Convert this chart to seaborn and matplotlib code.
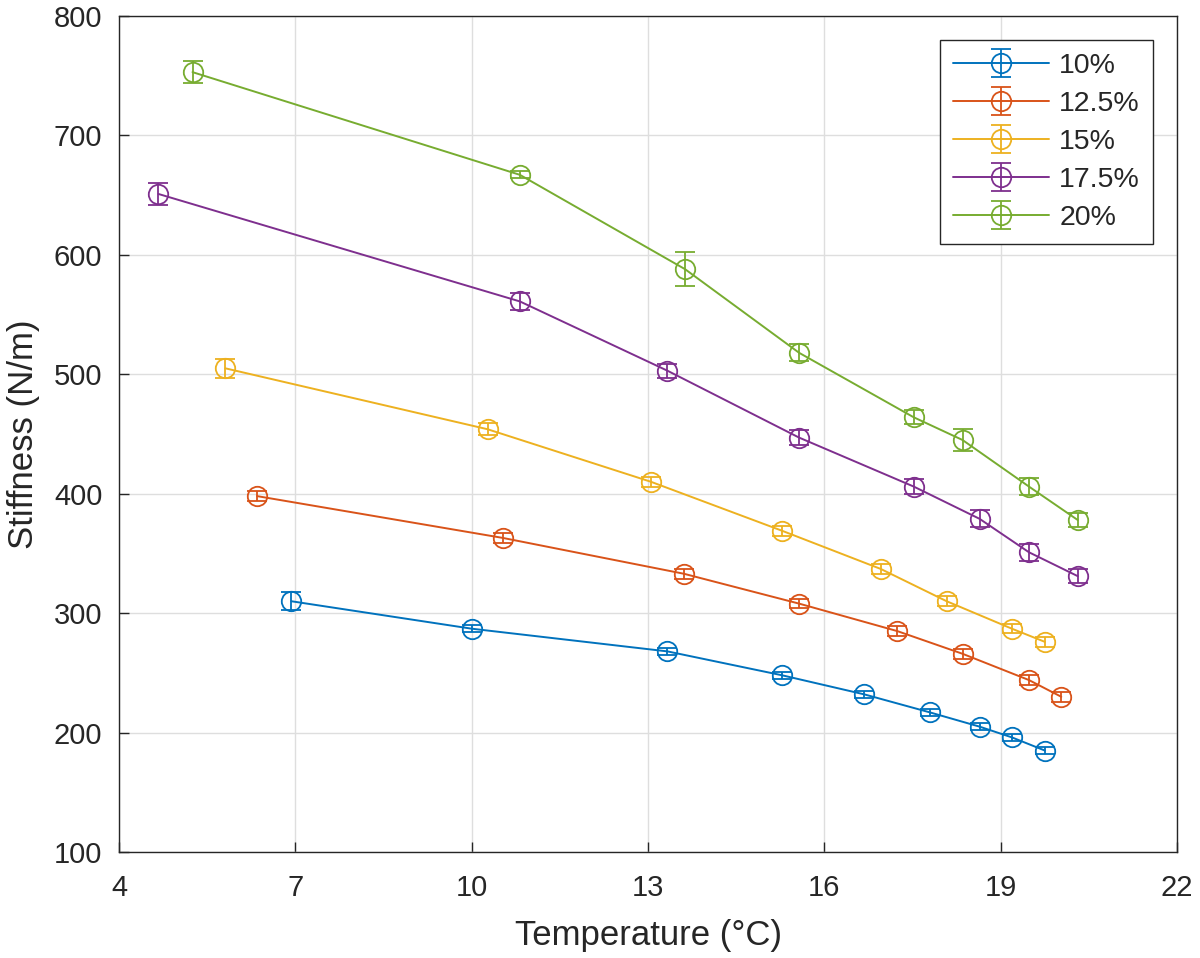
import numpy as np
import pandas as pd
import matplotlib
matplotlib.use("Agg")
import matplotlib.pyplot as plt
import seaborn as sns

labels = ["10%", "12.5%", "15%", "17.5%", "20%"]
colors = ["#0072BD", "#D95319", "#EDB120", "#7E2F8E", "#77AC30"]

temp_10 = [6.93, 10.0, 13.33, 15.28, 16.68, 17.79, 18.64, 19.19, 19.75]
stiff_10 = [310, 287, 268, 248, 232, 217, 205, 196, 185]
err_10 = [7.5, 3, 3, 3, 3, 3, 3, 3, 3]

temp_125 = [6.35, 10.53, 13.61, 15.57, 17.24, 18.35, 19.48, 20.03]
stiff_125 = [398, 363, 333, 308, 285, 266, 244, 230]
err_125 = [4, 4, 4, 4, 4, 4, 4, 4]

temp_15 = [5.81, 10.27, 13.05, 15.28, 16.96, 18.08, 19.19, 19.75]
stiff_15 = [505, 454, 410, 369, 337, 310, 287, 276]
err_15 = [8, 5, 4, 4, 4, 4, 4, 4]

temp_175 = [4.67, 10.82, 13.33, 15.57, 17.52, 18.64, 19.48, 20.31]
stiff_175 = [651, 561, 503, 447, 406, 379, 351, 331]
err_175 = [9.5, 7, 6, 6, 6, 7, 7, 6]

temp_20 = [5.25, 10.82, 13.63, 15.57, 17.52, 18.35, 19.48, 20.31]
stiff_20 = [753, 667, 588, 518, 464, 445, 406, 378]
err_20 = [9.5, 3, 14, 7, 6, 9, 7, 6]

temps = [temp_10, temp_125, temp_15, temp_175, temp_20]
stiffs = [stiff_10, stiff_125, stiff_15, stiff_175, stiff_20]
errs = [err_10, err_125, err_15, err_175, err_20]

xticks = [4, 7, 10, 13, 16, 19, 22]
yticks = [100, 200, 300, 400, 500, 600, 700, 800]

sns.set_theme(style="whitegrid")
plt.rcParams['font.family'] = ['Liberation Sans', 'DejaVu Sans']

fig = plt.figure(figsize=(12, 9.58), dpi=100)
ax = fig.add_axes([0.0992, 0.1106, 0.8817, 0.8727])

handles = []
for lab, c, t, s, e in zip(labels, colors, temps, stiffs, errs):
    df = pd.DataFrame({"Temperature": t, "Stiffness": s})
    sns.lineplot(data=df, x="Temperature", y="Stiffness", color=c, sort=False,
                 marker="o", markersize=14, markerfacecolor="none",
                 markeredgecolor=c, markeredgewidth=1.3, linewidth=1.4,
                 ax=ax, legend=False)
    line = ax.lines[-1]
    eb = ax.errorbar(t, s, yerr=e, fmt="none", ecolor=c, elinewidth=1.3,
                     capsize=7, capthick=1.3)
    handles.append((line, eb))

ax.set_xlim(4, 22)
ax.set_ylim(100, 800)
ax.set_xticks(xticks)
ax.set_yticks(yticks)
ax.tick_params(axis="both", labelsize=21, direction="in", length=7,
               width=1, colors="#262626", left=True, bottom=True)
ax.tick_params(axis="x", pad=16)
ax.tick_params(axis="y", pad=12)
ax.set_xlabel("Temperature (°C)", fontsize=25, color="#262626", labelpad=12)
ax.set_ylabel("Stiffness (N/m)", fontsize=25, color="#262626", labelpad=10)
ax.grid(True, color="#dedede", linewidth=1)
ax.set_facecolor("white")
for sp in ax.spines.values():
    sp.set_visible(True)
    sp.set_color("#262626")
    sp.set_linewidth(1)

leg = ax.legend(handles, labels, loc="upper right", fontsize=20.5,
                frameon=True, fancybox=False, handlelength=3.4,
                borderaxespad=0.85, labelspacing=0.42, handletextpad=0.35,
                borderpad=0.45)
leg.get_frame().set_edgecolor("#262626")
leg.get_frame().set_linewidth(1)
leg.get_frame().set_alpha(1)

fig.savefig("out.png", dpi=100)
